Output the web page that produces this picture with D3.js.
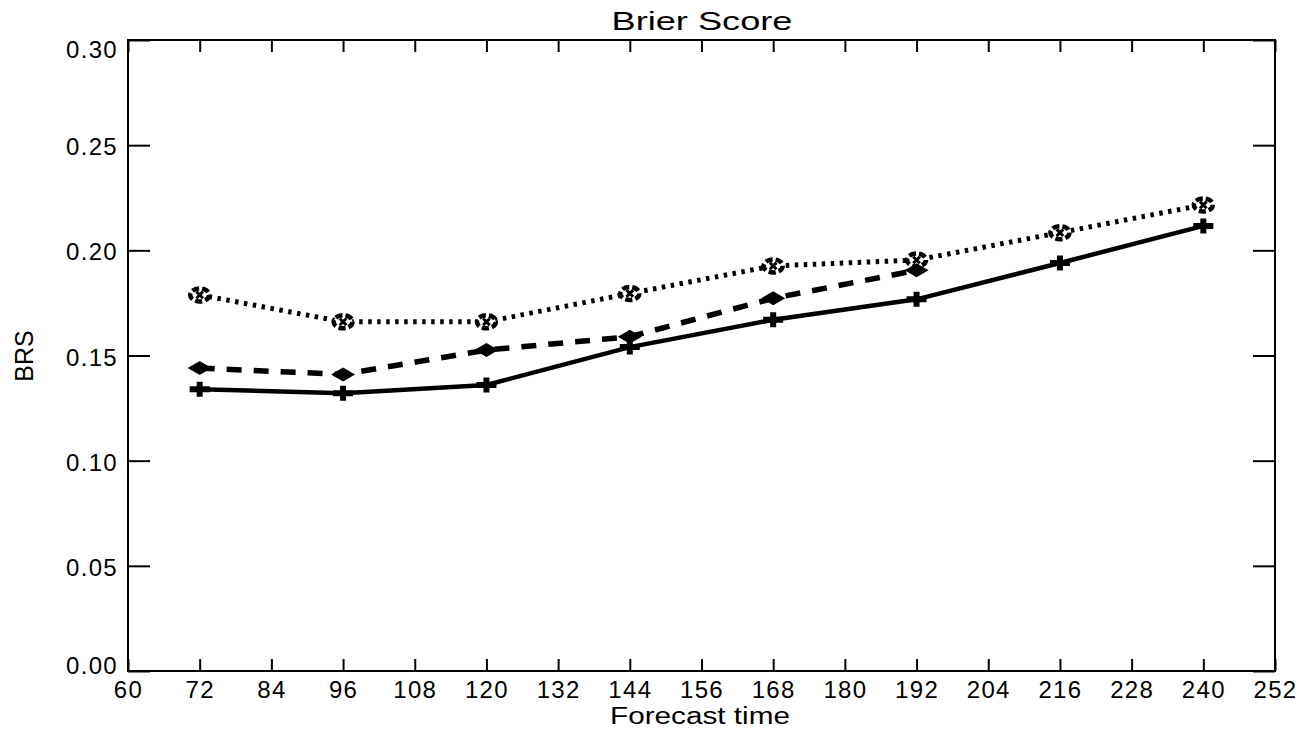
<!DOCTYPE html>
<html lang="en">
<head>
<meta charset="UTF-8"/>
<title>Brier Score</title>
<script src="https://d3js.org/d3.v7.min.js"></script>
<style>
  body { margin: 0; background: #fff; }
  text { font-family: "Liberation Sans", Arial, sans-serif; fill: #000; }
</style>
</head>
<body>
<script>
    // Forecast lead times (hours)
    var leadTimes = [72, 96, 120, 144, 168, 192, 216, 240];

    // Three series
    var solidSeries  = [0.134, 0.132, 0.136, 0.154, 0.167, 0.1767, 0.194, 0.2116];
    var dashedSeries = [0.144, 0.141, 0.1526, 0.1589, 0.1772, 0.1905];
    var dottedSeries = [0.1788, 0.166, 0.166, 0.1795, 0.1926, 0.1954, 0.2084, 0.2216];

    var xTicks = [60, 72, 84, 96, 108, 120, 132, 144, 156, 168, 180, 192, 204, 216, 228, 240, 252];
    var yTicks = [0.00, 0.05, 0.10, 0.15, 0.20, 0.25, 0.30];

    var w = 1309, h = 729;
    // plot frame edges (note: "top" is taken by window.top)
    var plotLeft = 128, plotTop = 40, plotRight = 1275, plotBottom = 671;

    var svg = d3.select("body").append("svg")
        .attr("width", w)
        .attr("height", h);

    var xScale = d3.scaleLinear().domain([60, 252]).range([plotLeft, plotRight]);
    var yScale = d3.scaleLinear().domain([0, 0.30]).range([plotBottom, plotTop]);

    function styleTicks(g) {
        g.select(".domain").remove();
        g.selectAll("line").attr("stroke", "#000").attr("stroke-width", 2);
        g.selectAll("text").attr("font-size", "24px").attr("letter-spacing", "1.3px")
         .attr("font-family", "'Liberation Sans', Arial, sans-serif");
    }

    // bottom axis with labels, ticks pointing inward
    svg.append("g")
        .attr("transform", "translate(0," + plotBottom + ")")
        .call(d3.axisBottom(xScale).tickValues(xTicks).tickSizeInner(-12).tickSizeOuter(0))
        .call(styleTicks)
        .call(function(g) { g.selectAll("text").attr("y", 27).attr("dy", 0); });

    // top axis, ticks only
    svg.append("g")
        .attr("transform", "translate(0," + plotTop + ")")
        .call(d3.axisTop(xScale).tickValues(xTicks).tickSizeInner(-12).tickSizeOuter(0).tickFormat(""))
        .call(styleTicks);

    // left axis with labels; end labels are pulled inside the frame like the original
    svg.append("g")
        .attr("transform", "translate(" + plotLeft + ",0)")
        .call(d3.axisLeft(yScale).tickValues(yTicks).tickSizeInner(-22).tickSizeOuter(0).tickPadding(10)
              .tickFormat(d3.format(".2f")))
        .call(styleTicks)
        .call(function(g) {
            g.selectAll("text").attr("dy", function(d) {
                return d === 0.30 ? 17 : (d === 0 ? 2 : 9.5);
            });
        });

    // right axis, ticks only
    svg.append("g")
        .attr("transform", "translate(" + plotRight + ",0)")
        .call(d3.axisRight(yScale).tickValues(yTicks).tickSizeInner(-22).tickSizeOuter(0).tickFormat(""))
        .call(styleTicks);

    // frame
    svg.append("rect")
        .attr("x", plotLeft).attr("y", plotTop)
        .attr("width", plotRight - plotLeft).attr("height", plotBottom - plotTop)
        .attr("fill", "none").attr("stroke", "#000").attr("stroke-width", 2);

    // titles
    svg.append("text")
        .attr("x", 702).attr("y", 30)
        .attr("text-anchor", "middle").attr("font-size", "25px")
        .attr("textLength", 181).attr("lengthAdjust", "spacingAndGlyphs")
        .text("Brier Score");

    svg.append("text")
        .attr("x", 700).attr("y", 724)
        .attr("text-anchor", "middle").attr("font-size", "23px")
        .attr("textLength", 180).attr("lengthAdjust", "spacingAndGlyphs")
        .text("Forecast time");

    svg.append("text")
        .attr("transform", "rotate(-90)")
        .attr("x", -356).attr("y", 33)
        .attr("text-anchor", "middle").attr("font-size", "25px")
        .text("BRS");

    // lines
    var series = [
        { values: dottedSeries, dash: "3.5,5.5", width: 5 },
        { values: dashedSeries, dash: "15,12", width: 5.5 },
        { values: solidSeries, dash: null, width: 4.5 }
    ];

    var line = d3.line()
        .x(function(d, i) { return xScale(leadTimes[i]); })
        .y(function(d) { return yScale(d); });

    series.forEach(function(s) {
        svg.append("path")
            .datum(s.values)
            .attr("d", line)
            .attr("fill", "none")
            .attr("stroke", "#000")
            .attr("stroke-width", s.width)
            .attr("stroke-dasharray", s.dash);
    });

    function place(values) {
        return function(d, i) {
            return "translate(" + xScale(leadTimes[i]) + "," + yScale(values[i]) + ")";
        };
    }

    // wide flat diamond symbol
    var flatDiamond = {
        draw: function(ctx) {
            ctx.moveTo(-12, 0);
            ctx.lineTo(0, -7);
            ctx.lineTo(12, 0);
            ctx.lineTo(0, 7);
            ctx.closePath();
        }
    };

    // thick plus symbol
    var thickPlus = {
        draw: function(ctx) {
            ctx.moveTo(-10, -3); ctx.lineTo(-3, -3); ctx.lineTo(-3, -7.5);
            ctx.lineTo(3, -7.5); ctx.lineTo(3, -3); ctx.lineTo(10, -3);
            ctx.lineTo(10, 3); ctx.lineTo(3, 3); ctx.lineTo(3, 7.5);
            ctx.lineTo(-3, 7.5); ctx.lineTo(-3, 3); ctx.lineTo(-10, 3);
            ctx.closePath();
        }
    };

    // dotted series: ragged ring markers
    svg.selectAll("g.ring")
        .data(dottedSeries)
        .enter()
        .append("g")
        .attr("class", "ring")
        .attr("transform", place(dottedSeries))
        .each(function() {
            d3.select(this).append("ellipse")
                .attr("rx", 9.5).attr("ry", 6.5)
                .attr("fill", "#fff").attr("stroke", "#000")
                .attr("stroke-width", 4.5).attr("stroke-dasharray", "7,3");
            d3.select(this).append("path")
                .attr("d", d3.symbol().type(d3.symbolX).size(30))
                .attr("stroke", "#000").attr("stroke-width", 3).attr("fill", "none");
        });

    // dashed series: flat diamonds
    svg.selectAll("path.diamond")
        .data(dashedSeries)
        .enter()
        .append("path")
        .attr("class", "diamond")
        .attr("d", d3.symbol().type(flatDiamond))
        .attr("transform", place(dashedSeries))
        .attr("fill", "#000");

    // solid series: plus markers
    svg.selectAll("path.plus")
        .data(solidSeries)
        .enter()
        .append("path")
        .attr("class", "plus")
        .attr("d", d3.symbol().type(thickPlus))
        .attr("transform", place(solidSeries))
        .attr("fill", "#000");
</script>
</body>
</html>
